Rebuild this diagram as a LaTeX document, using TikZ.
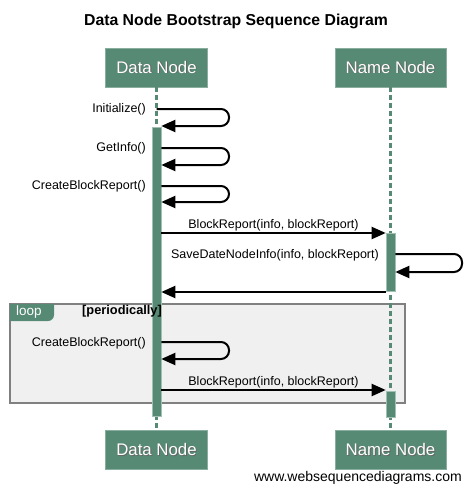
\documentclass[tikz,border=0pt]{standalone}
\usepackage{fontspec}
\setmainfont{Liberation Sans}
\usepackage{xcolor}
\usetikzlibrary{arrows.meta,positioning}

\definecolor{wsdgreen}{RGB}{86,138,116}
\definecolor{loopgray}{RGB}{240,240,240}
\definecolor{framegray}{RGB}{128,128,128}

% white participant name with a dark drop shadow
\newcommand{\castname}[1]{\rlap{\kern0.9pt\raisebox{-0.9pt}{\color{black!60}#1}}#1}

\begin{document}
\begin{tikzpicture}[x=1pt,y=-1pt,
  actor/.style={fill=wsdgreen,draw=wsdgreen!70!white,text=white,inner sep=0pt,
    minimum height=39pt,font=\fontsize{16.8}{18}\selectfont},
  lifeline/.style={wsdgreen,line width=3pt,dash pattern=on 5pt off 3pt},
  activation/.style={fill=wsdgreen,draw=wsdgreen!55!white,line width=0.6pt,
    inner sep=0pt,minimum width=9pt,anchor=north},
  msg/.style={line width=2pt,-{Triangle[length=14pt,width=12pt]}},
  selfmsg/.style={msg,rounded corners=8pt},
  lbl/.style={font=\fontsize{12.5}{14}\selectfont,inner sep=1pt}]
\useasboundingbox (0,0) rectangle (472,493);

% Title
\node[font=\bfseries\fontsize{15.8}{18}\selectfont] (title) at (236,21) {Data Node Bootstrap Sequence Diagram};

% Loop frame
\draw[framegray,line width=2pt,fill=loopgray] (10,304) rectangle (405,403);
\fill[wsdgreen] (10,304) -- (54,304) -- (54,315) arc[start angle=0,end angle=90,radius=6] -- (10,321) -- cycle;
\node[lbl,text=white,font=\fontsize{13.5}{15}\selectfont,anchor=west] (looptag) at (15,312.5) {loop};

% Participants
\node[actor,minimum width=102pt] (dntop) at (156.5,67.5) {\castname{Data Node}};
\node[actor,minimum width=111pt] (nntop) at (390.5,67.5) {\castname{Name Node}};
\node[actor,minimum width=102pt] (dnbot) at (156.5,450) {\castname{Data Node}};
\node[actor,minimum width=111pt] (nnbot) at (390.5,450) {\castname{Name Node}};

% Lifelines
\draw[lifeline] (dntop.south) -- (dnbot.north);
\draw[lifeline] (nntop.south) -- (nnbot.north);

% Activations
\node[activation,minimum height=289pt] (dnact) at (156.5,127) {};
\node[activation,minimum height=58pt] (nnact) at (390.5,233) {};
\node[activation,minimum height=26pt] (nnloop) at (390.5,391) {};

\node[lbl,font=\bfseries\fontsize{12.8}{14}\selectfont,anchor=west] (guard) at (81,311.5) {[periodically]};

% Messages
\draw[selfmsg] (dntop.south |- 0,109) -- (229,109) -- (229,126) -- (dnact.east |- 0,126);
\node[lbl,anchor=east] (init) at (147,109) {Initialize()};

\draw[selfmsg] (dnact.east |- 0,148) -- (229,148) -- (229,165) -- (dnact.east |- 0,165);
\node[lbl,anchor=east] (info) at (147,148.5) {GetInfo()};

\draw[selfmsg] (dnact.east |- 0,186) -- (229,186) -- (229,202) -- (dnact.east |- 0,202);
\node[lbl,anchor=east] (create) at (147,186) {CreateBlockReport()};

\draw[msg] (dnact.east |- 0,233) -- (nnact.west |- 0,233)
  node[lbl,midway,above] (report) {BlockReport(info, blockReport)};

\draw[selfmsg] (nnact.east |- 0,254) -- (462,254) -- (462,272) -- (nnact.east |- 0,272);
\node[lbl,anchor=east] (save) at (380,255.5) {SaveDateNodeInfo(info, blockReport)};

\draw[msg] (nnact.west |- 0,292) -- (dnact.east |- 0,292);

% Loop messages
\draw[selfmsg] (dnact.east |- 0,342) -- (229,342) -- (229,359) -- (dnact.east |- 0,359);
\node[lbl,anchor=east] (createloop) at (147,343) {CreateBlockReport()};

\draw[msg] (dnact.east |- 0,390) -- (nnloop.west |- 0,390)
  node[lbl,midway,above] (reportloop) {BlockReport(info, blockReport)};

% Footer
\node[font=\fontsize{14}{16}\selectfont,anchor=east,inner sep=0pt] (footer) at (462,478) {www.websequencediagrams.com};
\end{tikzpicture}
\end{document}
